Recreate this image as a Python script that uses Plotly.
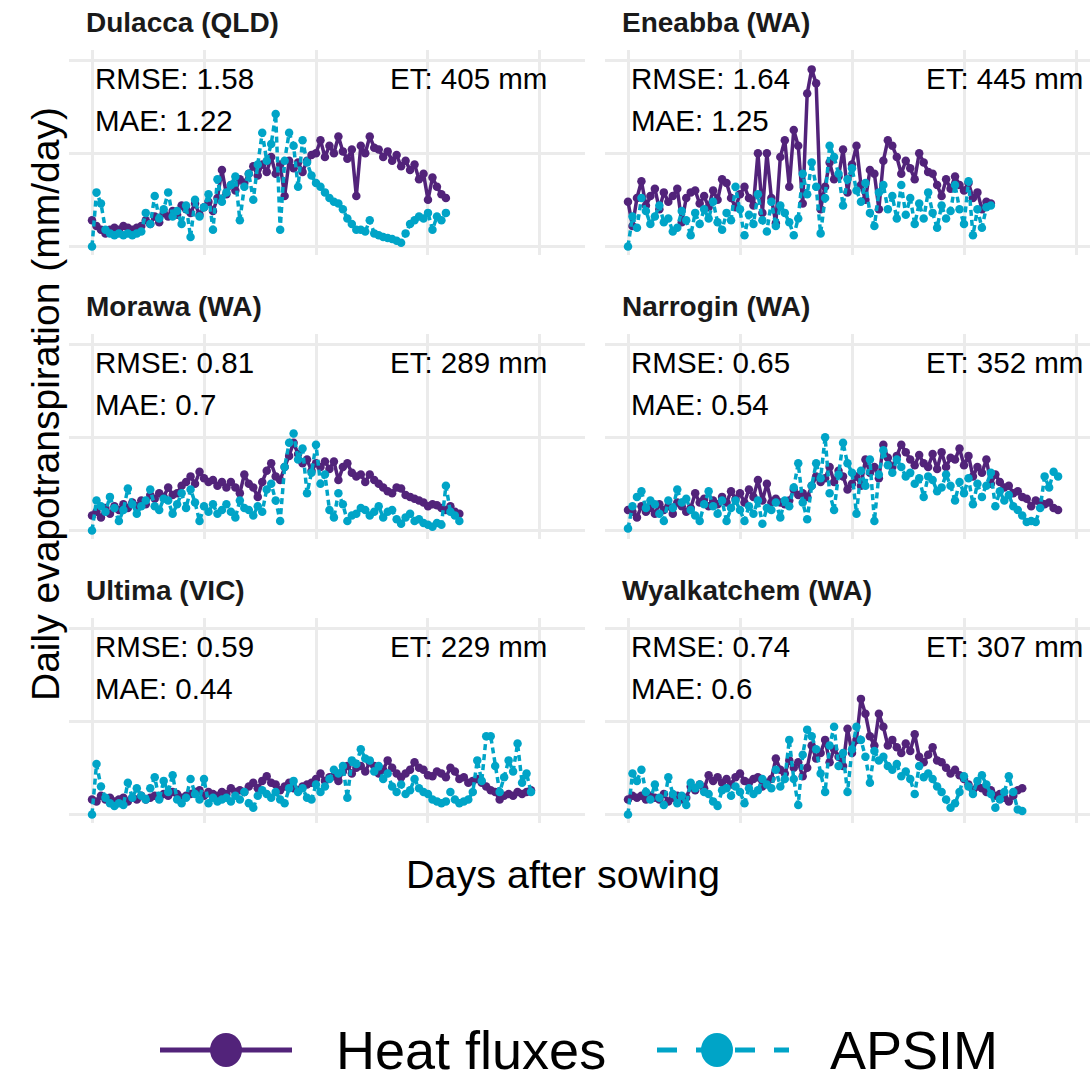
import plotly.graph_objects as go

W, H = 1090, 1081
PURPLE = "#52237A"
CYAN = "#00A4C7"
GRID = "#EBEBEB"
FONT = "Liberation Sans, Arial, Helvetica, sans-serif"

# ---------------- data ----------------
sites = ["Dulacca (QLD)", "Eneabba (WA)", "Morawa (WA)",
         "Narrogin (WA)", "Ultima (VIC)", "Wyalkatchem (WA)"]
rmse = ["1.58", "1.64", "0.81", "0.65", "0.59", "0.74"]
mae = ["1.22", "1.25", "0.7", "0.54", "0.44", "0.6"]
et_mm = ["405", "445", "289", "352", "229", "307"]
series_names = ["Heat fluxes", "APSIM"]
x_ticks = [0, 50, 100, 150, 200]
y_ticks = [0, 5, 10]
day_step = 2  # one reading every second day after sowing

hf_dulacca = [1.4, 1.1, 0.9, 0.7, 0.9, 1.0, 0.9, 1.1, 1.0, 0.9,
              1.0, 1.1, 1.4, 1.2, 1.6, 1.3, 1.8, 1.6, 1.9, 1.7,
              2.2, 2.0, 1.8, 2.3, 1.7, 2.1, 2.4, 1.9, 2.6, 4.1,
              2.8, 3.3, 3.0, 3.6, 3.4, 3.9, 4.3, 3.8, 4.4, 4.0,
              4.8, 3.9, 4.4, 2.7, 4.6, 4.2, 4.5, 4.0, 4.6, 4.9,
              5.0, 5.7, 4.8, 5.4, 5.0, 5.9, 5.1, 4.7, 5.2, 2.7,
              5.4, 5.0, 5.9, 5.3, 5.2, 4.8, 5.1, 4.6, 4.9, 4.3,
              4.6, 4.1, 4.4, 3.6, 3.9, 2.5, 3.7, 3.2, 2.8, 2.6]
ap_dulacca = [0.0, 2.9, 2.3, 0.9, 0.7, 0.6, 0.7, 0.6, 0.7, 0.6,
              0.7, 0.8, 1.8, 1.2, 2.7, 1.5, 2.0, 2.9, 1.6, 1.9,
              1.2, 2.2, 0.5, 2.5, 1.6, 2.1, 2.8, 0.9, 3.6, 2.4,
              2.9, 3.3, 3.75, 1.4, 3.2, 3.9, 2.5, 4.4, 6.1, 4.6,
              5.5, 7.1, 0.9, 4.6, 6.1, 5.4, 3.2, 5.7, 4.5, 3.8,
              3.4, 3.2, 2.9, 2.6, 2.4, 2.3, 2.0, 1.5, 1.2, 0.9,
              0.9, 0.8, 1.4, 0.7, 0.6, 0.5, 0.45, 0.4, 0.3, 0.2,
              0.7, 1.2, 1.4, 1.6, 1.5, 1.8, 0.9, 1.6, 1.4, 1.8]

hf_eneabba = [2.4, 1.1, 2.6, 3.5, 2.2, 2.7, 3.1, 2.0, 2.9, 2.4,
              2.7, 3.1, 1.3, 2.6, 2.9, 3.0, 2.3, 2.7, 2.1, 3.0,
              2.5, 3.6, 3.4, 2.6, 2.1, 2.8, 3.2, 2.6, 2.2, 5.0,
              1.8, 5.0, 2.6, 1.25, 4.8, 5.7, 3.2, 6.25, 5.4, 2.3,
              8.2, 9.5, 8.75, 2.0, 3.2, 4.5, 3.6, 3.75, 5.2, 2.9,
              4.4, 5.4, 3.3, 2.5, 4.1, 3.9, 2.0, 4.6, 5.7, 5.4,
              4.8, 3.9, 4.6, 4.2, 3.6, 5.0, 4.5, 4.0, 3.9, 3.3,
              2.7, 3.6, 3.1, 3.75, 3.3, 3.0, 3.4, 2.6, 2.9, 2.0,
              2.4, 2.3]
ap_eneabba = [0.0, 1.6, 1.0, 2.6, 1.9, 1.2, 1.6, 2.2, 1.3, 1.5,
              0.8, 1.0, 1.9, 1.4, 0.6, 1.8, 1.2, 2.0, 1.5, 2.4,
              1.3, 0.9, 1.8, 1.4, 3.2, 2.0, 0.6, 1.7, 1.2, 2.8,
              1.4, 0.8, 2.4, 1.1, 2.2, 1.8, 1.3, 0.6, 1.5, 3.9,
              2.8, 4.5, 3.2, 0.7, 2.6, 5.4, 4.8, 3.9, 2.2, 3.6,
              4.2, 3.0, 2.4, 3.4, 1.8, 1.1, 2.9, 3.3, 2.0, 2.7,
              1.5, 3.3, 1.7, 2.6, 1.2, 2.3, 1.5, 2.9, 1.8, 1.0,
              2.2, 1.5, 1.9, 3.3, 2.0, 1.2, 3.5, 0.6, 2.0, 1.0,
              2.1, 2.2]

hf_morawa = [0.8, 1.0, 0.7, 1.2, 0.9, 1.3, 1.1, 1.4, 1.2, 1.5,
             1.3, 1.6, 1.4, 1.9, 1.7, 2.0, 1.8, 2.3, 1.9, 2.0,
             2.4, 2.6, 2.9, 2.5, 3.15, 2.8, 2.6, 2.7, 2.4, 2.6,
             2.3, 2.6, 2.3, 2.0, 3.0, 2.5, 2.3, 1.8, 2.6, 3.2,
             3.6, 2.9, 2.7, 3.4, 4.0, 4.7, 4.1, 3.6, 3.8, 3.2,
             3.6, 3.4, 3.7, 3.3, 3.7, 2.7, 3.4, 3.6, 3.1, 2.9,
             3.0, 2.6, 3.0, 2.7, 2.5, 2.3, 2.1, 2.0, 2.3, 2.25,
             1.9, 1.8, 1.7, 1.6, 1.5, 1.3, 1.4, 1.35, 1.2, 1.1,
             1.3, 1.0, 0.9]
ap_morawa = [0.0, 1.6, 1.3, 1.0, 1.8, 1.2, 0.5, 1.1, 2.25, 1.4,
             0.9, 1.3, 1.6, 2.2, 1.3, 1.1, 1.7, 1.6, 0.9, 1.4,
             2.0, 1.2, 2.2, 1.5, 0.5, 1.3, 1.0, 1.4, 0.9, 1.1,
             1.4, 1.0, 0.7, 1.6, 1.2, 1.1, 0.8, 1.3, 1.0, 2.2,
             2.5, 1.6, 0.5, 3.4, 4.7, 5.2, 3.8, 4.4, 2.0, 3.1,
             4.6, 2.5, 3.0, 1.1, 0.7, 2.0, 1.4, 0.5, 0.8, 0.9,
             1.2, 1.1, 0.8, 1.0, 1.3, 0.7, 1.0, 1.1, 0.6, 0.36,
             0.7, 0.9, 0.5, 0.6, 0.4, 0.3, 0.2, 0.4, 0.3, 2.4,
             1.0, 0.8, 0.5]

hf_narrogin = [1.1, 1.0, 0.7, 1.3, 1.0, 1.2, 0.9, 1.4, 1.1, 1.3,
               0.9, 1.5, 1.3, 1.0, 1.2, 2.0, 1.5, 1.7, 1.3, 1.6,
               1.4, 1.8, 1.5, 2.1, 1.7, 2.0, 1.5, 2.2, 1.8, 2.7,
               1.6, 2.5, 1.5, 1.7, 1.5, 1.4, 1.6, 2.2, 1.9, 2.0,
               1.8, 2.4, 2.9, 2.6, 2.8, 3.4, 2.6, 3.2, 2.9, 2.2,
               2.5, 2.9, 2.4, 3.8, 3.1, 3.4, 2.8, 4.6, 3.9, 3.4,
               4.0, 4.6, 4.2, 3.8, 3.5, 4.05, 3.6, 3.4, 4.1, 3.3,
               4.2, 3.4, 3.9, 3.8, 4.4, 3.5, 4.0, 2.9, 3.4, 3.1,
               3.8, 2.5, 3.0, 2.6, 2.3, 2.4, 2.0, 2.1, 1.8, 1.7,
               1.3, 1.6, 1.5, 1.4, 1.5, 1.2, 1.1]
ap_narrogin = [0.1, 1.3, 1.8, 2.1, 1.2, 1.6, 1.4, 0.9, 0.5, 1.6,
               1.2, 2.2, 1.5, 1.7, 1.1, 0.8, 0.5, 1.4, 2.1, 1.3,
               0.9, 1.6, 0.5, 1.2, 1.6, 1.1, 0.5, 1.3, 0.9, 1.6,
               0.36, 1.2, 1.1, 1.5, 0.7, 1.6, 1.3, 2.3, 3.6, 1.5,
               0.6, 2.4, 3.6, 2.8, 5.0, 2.0, 1.1, 3.0, 4.7, 3.6,
               3.1, 0.9, 3.2, 2.4, 3.8, 0.5, 3.0, 4.3, 3.5, 3.1,
               3.8, 3.4, 2.9, 3.1, 2.5, 2.8, 1.8, 2.9, 2.7, 2.1,
               2.3, 3.0, 2.4, 1.6, 2.6, 2.0, 2.8, 1.4, 2.5, 1.8,
               2.4, 3.1, 1.3, 2.1, 1.6, 1.9, 1.3, 1.1, 0.8, 0.45,
               0.5, 0.45, 1.2, 2.9, 2.3, 3.15, 2.9]

hf_ultima = [0.8, 0.7, 1.0, 0.8, 0.9, 0.7, 0.8, 0.9, 0.7, 0.9,
             0.8, 1.0, 0.8, 0.9, 1.0, 0.9, 1.1, 1.0, 1.2, 1.1,
             0.9, 1.0, 1.1, 1.2, 1.3, 1.0, 1.2, 1.1, 1.0, 1.2,
             1.1, 1.4, 1.2, 1.3, 1.2, 1.5, 1.7, 1.4, 1.8, 2.05,
             1.7, 1.6, 1.3, 1.5, 1.7, 1.4, 1.3, 1.5, 1.6, 1.7,
             1.9, 2.2, 1.8, 2.0, 2.05, 1.8, 2.3, 2.6, 2.2, 2.5,
             2.6, 2.3, 2.8, 2.6, 2.2, 2.4, 2.9, 2.5, 2.2, 2.0,
             2.2, 2.4, 2.8, 2.5, 2.4, 2.1, 2.05, 2.3, 2.2, 2.0,
             2.5, 2.3, 1.9, 2.0, 1.7, 1.8, 1.9, 1.7, 1.5, 1.3,
             1.2, 0.8, 1.0, 1.1, 1.0, 1.2, 1.1, 1.2, 1.3]
ap_ultima = [0.0, 2.7, 1.5, 0.9, 0.6, 0.45, 0.6, 0.5, 1.7, 0.9,
             1.4, 1.0, 0.8, 1.4, 2.0, 0.8, 1.8, 1.2, 2.1, 0.8,
             0.6, 0.9, 1.9, 1.1, 0.8, 1.9, 0.6, 0.9, 0.7, 0.8,
             0.9, 0.7, 1.0, 0.8, 1.2, 0.6, 0.36, 1.0, 1.3, 1.1,
             0.9, 1.2, 0.8, 0.6, 1.4, 1.8, 1.2, 1.4, 0.9, 0.8,
             1.6, 1.2, 1.5, 1.9, 2.4, 2.2, 2.6, 0.9, 2.9, 2.7,
             3.5, 3.0, 2.9, 2.3, 2.6, 1.9, 2.2, 1.5, 1.2, 1.6,
             1.1, 1.3, 1.9, 1.4, 1.2, 1.1, 0.8, 0.7, 0.6, 0.7,
             1.2, 0.8, 0.6, 0.7, 0.8, 1.2, 2.9, 1.8, 4.2, 4.2,
             2.6, 1.2, 2.0, 2.9, 2.3, 3.8, 1.7, 2.2, 1.2]

hf_wyalkatchem = [0.8, 1.0, 0.9, 1.0, 0.8, 1.0, 0.9, 0.8, 1.1, 0.7,
                  0.9, 1.0, 0.8, 0.9, 1.5, 1.3, 1.6, 1.4, 2.1, 1.8,
                  2.0, 1.7, 1.9, 1.6, 2.0, 2.2, 1.8, 1.7, 1.9, 2.0,
                  1.5, 1.7, 1.9, 3.0, 2.4, 2.2, 2.9, 2.5, 2.8, 2.05,
                  2.5, 3.7, 3.0, 3.3, 4.0, 2.8, 3.5, 3.1, 2.6, 4.6,
                  3.3, 4.0, 6.2, 5.4, 4.2, 3.7, 5.4, 4.7, 3.7, 4.0,
                  3.6, 3.3, 3.8, 3.4, 4.3, 3.1, 2.8, 3.2, 3.6, 2.9,
                  2.8, 2.5, 2.2, 2.4, 2.1, 1.9, 1.6, 1.3, 1.5, 1.4,
                  1.2, 1.3, 1.0, 1.1, 0.9, 0.7, 1.0, 1.3, 1.4]
ap_wyalkatchem = [0.0, 2.2, 1.8, 2.4, 1.2, 0.8, 1.6, 0.9, 0.5, 2.0,
                  1.1, 0.6, 1.0, 0.5, 1.7, 1.4, 1.6, 1.2, 1.1, 0.7,
                  0.45, 1.3, 1.4, 1.0, 1.5, 1.2, 0.6, 1.4, 1.1, 1.3,
                  1.9, 1.6, 1.4, 2.4, 1.5, 1.9, 4.0, 1.9, 0.5, 3.2,
                  4.55, 4.2, 3.5, 2.2, 1.2, 3.7, 4.7, 2.6, 3.3, 1.2,
                  3.5, 4.7, 4.0, 3.1, 1.7, 3.4, 2.9, 3.1, 2.6, 2.4,
                  2.7, 2.05, 2.3, 1.9, 1.1, 2.6, 2.0, 2.2, 1.9, 1.5,
                  1.2, 0.8, 0.36, 0.6, 1.2, 2.05, 1.5, 1.1, 1.8, 2.1,
                  1.6, 1.1, 0.36, 0.8, 1.2, 2.05, 1.2, 0.27, 0.18]

heat_fluxes = [hf_dulacca, hf_eneabba, hf_morawa, hf_narrogin, hf_ultima, hf_wyalkatchem]
apsim = [ap_dulacca, ap_eneabba, ap_morawa, ap_narrogin, ap_ultima, ap_wyalkatchem]


def days(values):
    return [i * day_step for i in range(len(values))]


# ---------------- layout geometry (pixels) ----------------
row_tops = [50, 334, 618]
panel_h = 205
col_edges = [(68.5, 585.0), (605.0, 1090.0)]
x_ranges = [[-10.5, 220.1], [-10.27, 206.25]]
y_range = [-0.46, 10.54]
strip_x = [84, 620]
strip_y = [22, 306, 590]


def px_x(p):
    return p / W


def px_y(p):
    return 1 - p / H


fig = go.Figure()
layout_axes = {}
annotations = []

for i, site in enumerate(sites):
    r, c = divmod(i, 2)
    k = i + 1
    xa = "x" if k == 1 else f"x{k}"
    ya = "y" if k == 1 else f"y{k}"
    xkey = "xaxis" if k == 1 else f"xaxis{k}"
    ykey = "yaxis" if k == 1 else f"yaxis{k}"
    x0, x1 = col_edges[c]
    top = row_tops[r]
    layout_axes[xkey] = dict(
        domain=[px_x(x0), px_x(x1)], range=x_ranges[c], anchor=ya,
        tickvals=x_ticks, showticklabels=False, ticks="",
        showgrid=True, gridcolor=GRID, gridwidth=3,
        zeroline=False, showline=False,
    )
    layout_axes[ykey] = dict(
        domain=[px_y(top + panel_h), px_y(top)], range=y_range, anchor=xa,
        tickvals=y_ticks, showticklabels=False, ticks="",
        showgrid=True, gridcolor=GRID, gridwidth=3,
        zeroline=False, showline=False,
    )

    fig.add_trace(go.Scatter(
        x=days(heat_fluxes[i]), y=heat_fluxes[i], xaxis=xa, yaxis=ya,
        mode="lines+markers", name=series_names[0], showlegend=False,
        line=dict(color=PURPLE, width=3.5),
        marker=dict(color=PURPLE, size=8.5),
    ))
    fig.add_trace(go.Scatter(
        x=days(apsim[i]), y=apsim[i], xaxis=xa, yaxis=ya,
        mode="lines+markers", name=series_names[1], showlegend=False,
        line=dict(color=CYAN, width=3.5, dash="6px,4px"),
        marker=dict(color=CYAN, size=8.5),
    ))

    # facet strip title
    annotations.append(dict(
        text=f"<b>{site}</b>", xref="paper", yref="paper",
        x=px_x(strip_x[c]), y=px_y(strip_y[r]), xanchor="left", yanchor="middle",
        showarrow=False, font=dict(family=FONT, size=28, color="#1A1A1A"),
    ))
    # statistics
    annotations.append(dict(
        text=f"RMSE: {rmse[i]}", xref=xa, yref=ya, x=0.3, y=9.0,
        xanchor="left", yanchor="middle", showarrow=False,
        font=dict(family=FONT, size=29.5, color="#000000"),
    ))
    annotations.append(dict(
        text=f"MAE: {mae[i]}", xref=xa, yref=ya, x=0.3, y=6.78,
        xanchor="left", yanchor="middle", showarrow=False,
        font=dict(family=FONT, size=29.5, color="#000000"),
    ))
    annotations.append(dict(
        text=f"ET: {et_mm[i]} mm", xref=xa, yref=ya, x=204, y=9.0,
        xanchor="right", yanchor="middle", showarrow=False,
        font=dict(family=FONT, size=29.5, color="#000000"),
    ))

# axis titles
annotations.append(dict(
    text="Daily evapotranspiration (mm/day)", xref="paper", yref="paper",
    x=px_x(45), y=px_y(404), xanchor="center", yanchor="middle",
    textangle=-90, showarrow=False, font=dict(family=FONT, size=39, color="#000000"),
))
annotations.append(dict(
    text="Days after sowing", xref="paper", yref="paper",
    x=px_x(563), y=px_y(874), xanchor="center", yanchor="middle",
    showarrow=False, font=dict(family=FONT, size=39.5, color="#000000"),
))

# legend (keys drawn as layout shapes, labels as text)
legend_y = 1050
annotations.append(dict(
    text=series_names[0], xref="paper", yref="paper", x=px_x(334), y=px_y(legend_y),
    xanchor="left", yanchor="middle", showarrow=False,
    font=dict(family=FONT, size=54, color="#000000"),
))
annotations.append(dict(
    text=series_names[1], xref="paper", yref="paper", x=px_x(828), y=px_y(legend_y),
    xanchor="left", yanchor="middle", showarrow=False,
    font=dict(family=FONT, size=54, color="#000000"),
))
shapes = [
    dict(type="line", xref="paper", yref="paper",
         x0=px_x(160), x1=px_x(292), y0=px_y(legend_y), y1=px_y(legend_y),
         line=dict(color=PURPLE, width=5)),
    dict(type="circle", xref="paper", yref="paper",
         x0=px_x(210), x1=px_x(242), y0=px_y(legend_y + 17), y1=px_y(legend_y - 17),
         fillcolor=PURPLE, line=dict(color=PURPLE, width=0)),
    dict(type="line", xref="paper", yref="paper",
         x0=px_x(657), x1=px_x(789), y0=px_y(legend_y), y1=px_y(legend_y),
         line=dict(color=CYAN, width=5, dash="20px,19px")),
    dict(type="circle", xref="paper", yref="paper",
         x0=px_x(701), x1=px_x(733), y0=px_y(legend_y + 17), y1=px_y(legend_y - 17),
         fillcolor=CYAN, line=dict(color=CYAN, width=0)),
]

fig.update_layout(
    width=W, height=H,
    margin=dict(l=0, r=0, t=0, b=0),
    paper_bgcolor="white", plot_bgcolor="white",
    showlegend=False,
    annotations=annotations, shapes=shapes,
    font=dict(family=FONT),
    **layout_axes,
)

fig.write_html(
    "out.html",
    config={"displayModeBar": False},
    post_script="document.body.style.margin='0';document.body.style.overflow='hidden';",
)
